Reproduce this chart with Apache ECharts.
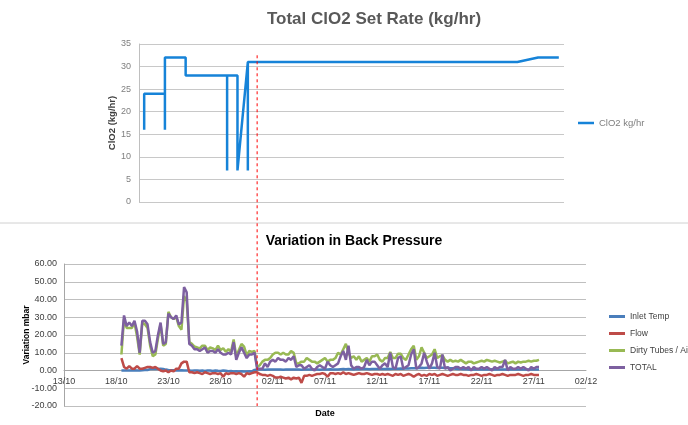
<!DOCTYPE html>
<html><head><meta charset="utf-8">
<script src="https://cdn.jsdelivr.net/npm/echarts@6/dist/echarts.min.js"></script>
<style>html,body{margin:0;padding:0;background:#fff}#c{width:688px;height:425px}</style>
</head><body><div id="c"></div>
<script>
// ---------- Top chart: Total ClO2 Set Rate ----------
const topTitle = 'Total ClO2 Set Rate (kg/hr)';
const topSeriesName = 'ClO2 kg/hr';
// x = days since 13/10
const topDays   = [7, 7, 9, 9, 9, 11, 11, 15, 15, 15, 16, 16, 17, 17, 17, 43, 45, 47];
const topValues = [16, 24, 24, 16, 32, 32, 28, 28, 7, 28, 28, 7, 31, 7, 31, 31, 32, 32];

// ---------- Bottom chart: Variation in Back Pressure ----------
const bottomTitle = 'Variation in Back Pressure';
const dateTickLabels = ['13/10','18/10','23/10','28/10','02/11','07/11','12/11','17/11','22/11','27/11','02/12'];
const seriesNames = ['Inlet Temp', 'Flow', 'Dirty Tubes / Air', 'TOTAL'];
const bpStartDay = 5.5;   // first reading (days since 13/10)
const bpStepDay = 0.25;   // reading interval (days)

const inletTemp = [0,0,
 0,0,0,0.2, 0,0,0.2,0.3, 0.3,0.8,1,0.8, 0.8,1,0.8,0.5, 0.3,0.2,0.2,0, 0,0.2,0,0,
 0,-0.2,0,0, -0.2,0,-0.3,0, 0,-0.3,0,-0.2, -0.3,0,-0.2,-0.4, -0.3,-0.5,-0.4,-0.5,
 -0.4,-0.6,-0.5,-0.4, -0.5,0.3,0.5,0.5, 0.5,0.4,0.5,0.6, 0.5,0.5,0.6,0.5, 0.4,0.5,0.5,0.6,
 0.5,0.6,0.5,0.4, 0.5,0.6,0.5,0.5, 0.6,0.5,0.4,0.5, 0.5,0.6,0.7,0.6, 0.5,0.6,0.7,0.8,
 0.7,0.8,0.7,0.6, 0.8,0.7,0.8,0.9, 0.8,0.7,0.9,0.8, 0.9,1,0.8,0.9, 1,0.9,1,1.1,
 1,1.1,1,1.2, 1.1,1.2,1.3,1.2, 1.4,1.5,1.4,1.6, 1.5,1.6,1.5,1.4, 1.5,1.6,1.4,1.5,
 1.3,1.2,1,0.9, 0.8,0.7,0.8,0.6, 0.7,0.6,0.7,0.6, 0.5,0.6,0.5,0.6, 0.7,0.6,0.5,0.6,
 0.5,0.6,0.5,0.5, 0.6,0.5,0.6,0.5, 0.5,0.6,0.5,0.5, 0.6,0.5,0.5];

const flow = [7,2,
 1,2.5,1,1, 2.5,1,1,1.5, 2,2,1.5,2, 1,0,-0.5,0, -1,0,-0.5,1, 1,4,5,5,
 -1,-1,-1.5,-1, -1.5,-2,-1,-1.5, -2,-1.5,-1.5,-2, -1.5,-3.5,-1.5,-2, -1.5,-1.5,-2,-1.5,
 -2,-3.5,-1.5,-2, -1.5,-1,-1,-2, -2.5,-2.5,-3,-2.5, -3,-4,-4,-3.5, -4,-4.5,-4,-5,
 -4,-4.5,-4,-7, -3,-3,-2.5,-3, -2.5,-2,-2,-1.5, -2,-3.5,-1.5,-1.5, -2,-1.5,-2,-1,
 -2,-1.5,-2,-2.5, -2,-1.5,-2,-2, -1.5,-2,-2.5,-2, -2,-2.5,-2,-2.5, -2,-2.5,-3,-2,
 -2.5,-2,-3,-2.5, -2,-2.5,-3.5,-2.5, -2,-3,-2.5,-3, -2,-2.5,-2,-3, -2.5,-2,-2.5,-3,
 -2.5,-2,-2.5,-2.5, -2,-2.5,-2.5,-3, -2.5,-2.5,-2,-2.5, -3,-2.5,-2.5,-2, -2.5,-3,-2.5,-2.5,
 -2,-2.5,-3,-2.5, -2.5,-2.5,-2,-2.5, -3,-2.5,-2.5,-2, -2.5,-2.5,-2.5];

const dirtyTubes = [9,29,
 24,24,24,27, 19,9,27,26, 24,14,8,9, 18,26,14,15, 33,30,29,30, 25,23,42,39,
 16,15,13.5,13, 12.5,14,14,11.5, 13,12.5,11.5,14, 11.5,12.5,10.5,12, 10.5,17.5,8,11.5,
 15,13.5,8.5,11, 10.5,11,2,3, 5,6,6,7, 9,10,10,9, 10,9,9,11,
 10,4,4,5, 5,7,6,5, 5,4,5,6, 7,5,6,6, 7,10,9,12,
 15,10,7,8, 6,8,5,6, 7,5,8,8, 9,6,5,7, 7,10.5,7,7,
 9.5,9.5,7,6, 9,12,14,6, 8,13,10,7, 8,9,12,7, 8,8.5,6,5,
 6,5,5.5,5, 6,5,4,5, 5,4,4.5,5, 5.5,5,6,5.5, 5,5.5,5,4.5,
 5,5.5,4,4.5, 5,4,5,4.5, 5,5,5.5,5, 5.5,5.5,6];

const total = [14,31,
 25,27,25,28, 22,10,28,28, 26,16,10,11, 20,27,15,16, 32,30,29,31, 26,27,47,44,
 15,14,12,12, 11,12,13,10, 11,11,10,12, 10,9,9,10, 9,16,6,10,
 13,10,7,9, 9,10,1,1, 1,4,2,5, 6,5,7,6, 6,5,7,6,
 8,2,3,3, 1,2,3,1, 0,2,3,2, 1,5,3,2, 3,4,8,11,
 6,14,3,1, 2,2,1,2, 6,3,5,5, 3,1,3,4, 2,10,2,1,
 7,8,1,2, 3,9,12,1, 2,4,10,5, 1,4,10,2, 1,9,1,2,
 0,1,2,2, 1,2,1,2, 0,2,1,1, 2,1,2,1, 0,2,1,2,
 2,6,0,2, 1,1,2,1, 2,1,0,2, 1,2,2];

// Day of the change marked by the red dashed line
const changeDayBottom = 18.5;
const markerTopValue = 32.5;

const seriesColors = ['#4a7ebb', '#be4b48', '#98b954', '#7d60a0'];
const seriesValues = [inletTemp, flow, dirtyTubes, total];

const bottomYMin = -20, bottomYMax = 60, bottomGridHeight = 142;
// the date axis crosses the value axis at 0
const dateAxisOffset = -bottomGridHeight * (0 - bottomYMin) / (bottomYMax - bottomYMin);

const chart = echarts.init(document.getElementById('c'), null, {renderer: 'canvas'});
const toPairs = arr => arr.map((v, i) => [bpStartDay + i * bpStepDay, v]);
const FONT = 'Liberation Sans, Arial, sans-serif';

const option = {
  animation: false,
  backgroundColor: '#ffffff',
  textStyle: {fontFamily: FONT},
  title: [
    {text: topTitle, left: 374, top: 11, padding: 0, textAlign: 'center',
     textStyle: {fontFamily: FONT, fontWeight: 'bold', fontSize: 17, color: '#595959'}},
    {text: bottomTitle, left: 354, top: 234, padding: 0, textAlign: 'center',
     textStyle: {fontFamily: FONT, fontWeight: 'bold', fontSize: 14, color: '#000000'}}
  ],
  legend: [
    {data: [topSeriesName], orient: 'vertical', left: 578, top: 118, padding: 0,
     icon: 'rect', itemWidth: 16, itemHeight: 2.5,
     textStyle: {fontSize: 9.5, color: '#7f7f7f', fontFamily: FONT}},
    {data: seriesNames, orient: 'vertical', left: 609, top: 311, padding: 0, itemGap: 6,
     icon: 'rect', itemWidth: 16, itemHeight: 3,
     textStyle: {fontSize: 8.5, color: '#404040', fontFamily: FONT, lineHeight: 11}}
  ],
  grid: [
    {left: 139, top: 44, width: 425, height: 158, outerBoundsMode: 'none', containLabel: false},
    {left: 64, top: 264, width: 522, height: bottomGridHeight, outerBoundsMode: 'none', containLabel: false}
  ],
  xAxis: [
    {type: 'value', gridIndex: 0, min: 6.5, max: 47.5, show: false},
    {type: 'value', gridIndex: 1, min: 0, max: 50, interval: 5,
     position: 'bottom', offset: dateAxisOffset,
     axisLine: {onZero: false, lineStyle: {color: '#a6a6a6'}},
     axisTick: {show: false}, splitLine: {show: false},
     axisLabel: {fontSize: 9, color: '#404040', margin: 7,
       formatter: v => dateTickLabels[Math.round(v / 5)] || ''},
     name: 'Date', nameLocation: 'middle', nameGap: 39, nameMoveOverlap: false,
     nameTextStyle: {fontWeight: 'bold', fontSize: 9, color: '#000'}}
  ],
  yAxis: [
    {type: 'value', gridIndex: 0, min: 0, max: 35, interval: 5,
     axisLine: {show: true, lineStyle: {color: '#bfbfbf'}}, axisTick: {show: false},
     axisLabel: {fontSize: 9, color: '#7f7f7f', margin: 8},
     splitLine: {lineStyle: {color: '#c8c8c8'}},
     name: 'ClO2 (kg/hr)', nameLocation: 'middle', nameGap: 22, nameRotate: 90, nameMoveOverlap: false,
     nameTextStyle: {fontWeight: 'bold', fontSize: 9.5, color: '#404040'}},
    {type: 'value', gridIndex: 1, min: bottomYMin, max: bottomYMax, interval: 10,
     axisLine: {show: true, onZero: false, lineStyle: {color: '#a6a6a6'}}, axisTick: {show: false},
     axisLabel: {fontSize: 9, color: '#404040', margin: 7, formatter: v => v.toFixed(2)},
     splitLine: {lineStyle: {color: '#bfbfbf'}},
     name: 'Variation mbar', nameLocation: 'middle', nameGap: 33, nameRotate: 90, nameMoveOverlap: false,
     nameTextStyle: {fontWeight: 'bold', fontSize: 8.5, color: '#000'}}
  ],
  series: [
    {name: topSeriesName, type: 'line', xAxisIndex: 0, yAxisIndex: 0, symbol: 'none',
     data: topDays.map((d, i) => [d, topValues[i]]),
     lineStyle: {color: '#1683d8', width: 2.5}, itemStyle: {color: '#1683d8'}}
  ].concat(seriesNames.map((n, k) => ({
     name: n, type: 'line', xAxisIndex: 1, yAxisIndex: 1, symbol: 'none',
     data: toPairs(seriesValues[k]),
     lineStyle: {color: seriesColors[k], width: 2.5}, itemStyle: {color: seriesColors[k]}
  })))
};
chart.setOption(option);

const xPix = chart.convertToPixel({xAxisIndex: 1}, changeDayBottom);
const yTop = chart.convertToPixel({yAxisIndex: 0}, markerTopValue);
const yBot = chart.convertToPixel({yAxisIndex: 1}, bottomYMin);
chart.setOption({
  graphic: [
    {type: 'line', z: 100, shape: {x1: 0, y1: 223, x2: 688, y2: 223},
     style: {stroke: '#d0d0d0', lineWidth: 1}},
    {type: 'line', z: 101, shape: {x1: xPix, y1: yTop, x2: xPix, y2: yBot},
     style: {stroke: '#ff0000', lineWidth: 1, lineDash: [3, 3]}}
  ]
});
</script>
</body></html>
